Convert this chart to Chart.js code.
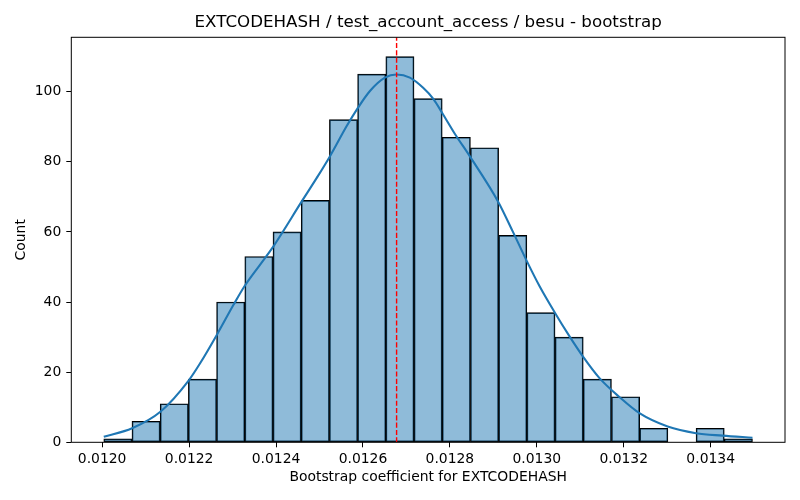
<!DOCTYPE html>
<html>
<head>
<meta charset="utf-8">
<script src="https://cdn.jsdelivr.net/npm/chart.js@4.4.0/dist/chart.umd.min.js"></script>
<style>
  body { margin: 0; background: #fff; }
  #wrap { width: 800px; height: 500px; }
</style>
</head>
<body>
<div id="wrap"><canvas id="chart"></canvas></div>
<script>
// histogram bins (23 equal bins from the sample min to the sample max)
const binStart = 0.0120037;
const binWidth = 0.00006489;
const binCounts = [1, 6, 11, 18, 40, 53, 60, 69, 92, 105, 110, 98, 87, 84, 59, 37, 30, 18, 13, 4, 0, 4, 1];

// kde curve
const kdeX = [0.0120037, 0.0120689, 0.0121339, 0.0121989, 0.0122257, 0.0122641, 0.0123022, 0.0123274,
  0.0123635, 0.0123940, 0.0124592, 0.0124937, 0.0125242, 0.0125626, 0.0125869, 0.0126161, 0.0126505,
  0.0126774, 0.0127079, 0.0127385, 0.0127614, 0.0127844, 0.0128113, 0.0128457, 0.0129107, 0.0129451,
  0.0129773, 0.0130064, 0.0130409, 0.0130753, 0.0131059, 0.0131442, 0.0131901, 0.0132361, 0.0133010,
  0.0133662, 0.0134273, 0.0134962];
const kdeY = [1.6, 4.0, 8.7, 17.6, 22.6, 30.7, 39.2, 44.5,
  50.7, 55.9, 68.7, 75.4, 81.6, 90.2, 95.1, 100.2, 104.0,
  104.9, 104.0, 101.1, 98.0, 93.5, 88.0, 81.6, 68.7, 60.0,
  51.6, 44.5, 37.1, 30.2, 24.5, 18.3, 12.9, 8.3, 4.5,
  2.6, 1.9, 1.3];

const meanX = 0.0126774;

const xTicks = [0.0120, 0.0122, 0.0124, 0.0126, 0.0128, 0.0130, 0.0132, 0.0134];
const yTicks = [0, 20, 40, 60, 80, 100];

const title = 'EXTCODEHASH / test_account_access / besu - bootstrap';
const FONT = 'DejaVu Sans';

const binCenters = binCounts.map((c, i) => binStart + (i + 0.5) * binWidth);

// matplotlib style: full box round the axes, title centred over the axes
const frame = {
    id: 'frame',
    afterDatasetsDraw(chart) {
        const { ctx, chartArea: a } = chart;
        ctx.save();
        ctx.strokeStyle = '#000';
        ctx.lineWidth = 1;
        ctx.strokeRect(a.left, a.top, a.right - a.left, a.bottom - a.top);
        ctx.fillStyle = '#000';
        ctx.font = '16.7px "' + FONT + '"';
        ctx.textAlign = 'center';
        ctx.textBaseline = 'middle';
        ctx.fillText(title, (a.left + a.right) / 2, 23);
        ctx.restore();
    }
};

const ctx = document.getElementById('chart').getContext('2d');
new Chart(ctx, {
    type: 'bar',
    data: {
        datasets: [
            {
                type: 'line',
                data: [{ x: meanX, y: 0 }, { x: meanX, y: 115.5 }],
                borderColor: 'red',
                borderWidth: 1.4,
                borderDash: [5.1, 2.2],
                pointRadius: 0,
                order: 1
            },
            {
                type: 'line',
                data: kdeX.map((x, i) => ({ x: x, y: kdeY[i] })),
                borderColor: '#1f77b4',
                borderWidth: 2.1,
                pointRadius: 0,
                cubicInterpolationMode: 'monotone',
                order: 2
            },
            {
                type: 'bar',
                data: binCenters.map((x, i) => ({ x: x, y: binCounts[i] })),
                backgroundColor: 'rgba(31, 119, 180, 0.5)',
                borderColor: '#000',
                borderWidth: 1,
                borderSkipped: false,
                barPercentage: 1,
                categoryPercentage: 1,
                grouped: false,
                order: 3
            }
        ]
    },
    options: {
        responsive: true,
        maintainAspectRatio: false,
        animation: false,
        layout: { padding: { left: 0, right: 15, top: 37.3, bottom: 0 } },
        plugins: {
            legend: { display: false },
            tooltip: { enabled: false },
            title: { display: false }
        },
        scales: {
            x: {
                type: 'linear',
                min: 0.011929,
                max: 0.013571,
                offset: false,
                grid: { offset: false, drawOnChartArea: false, drawTicks: true, tickLength: 5, tickColor: '#000' },
                border: { display: false },
                afterBuildTicks: function (scale) {
                    scale.ticks = xTicks.map(v => ({ value: v }));
                },
                afterFit: function (scale) {
                    scale.height = 57.7;
                },
                ticks: {
                    color: '#000',
                    padding: 4,
                    maxRotation: 0,
                    font: { family: FONT, size: 13.9 },
                    callback: function (value) {
                        return value.toFixed(4);
                    }
                },
                title: {
                    display: true,
                    text: 'Bootstrap coefficient for EXTCODEHASH',
                    color: '#000',
                    font: { family: FONT, size: 13.9 },
                    padding: { top: 0, bottom: 14.2 }
                }
            },
            y: {
                min: 0,
                max: 115.5,
                grid: { drawOnChartArea: false, drawTicks: true, tickLength: 5, tickColor: '#000' },
                border: { display: false },
                afterBuildTicks: function (scale) {
                    scale.ticks = yTicks.map(v => ({ value: v }));
                },
                afterFit: function (scale) {
                    scale.width = 71.3;
                },
                ticks: {
                    color: '#000',
                    padding: 5,
                    font: { family: FONT, size: 13.9 }
                },
                title: {
                    display: true,
                    text: 'Count',
                    color: '#000',
                    font: { family: FONT, size: 13.9 },
                    padding: { top: 13.4, bottom: 0 }
                }
            }
        }
    },
    plugins: [frame]
});
</script>
</body>
</html>
